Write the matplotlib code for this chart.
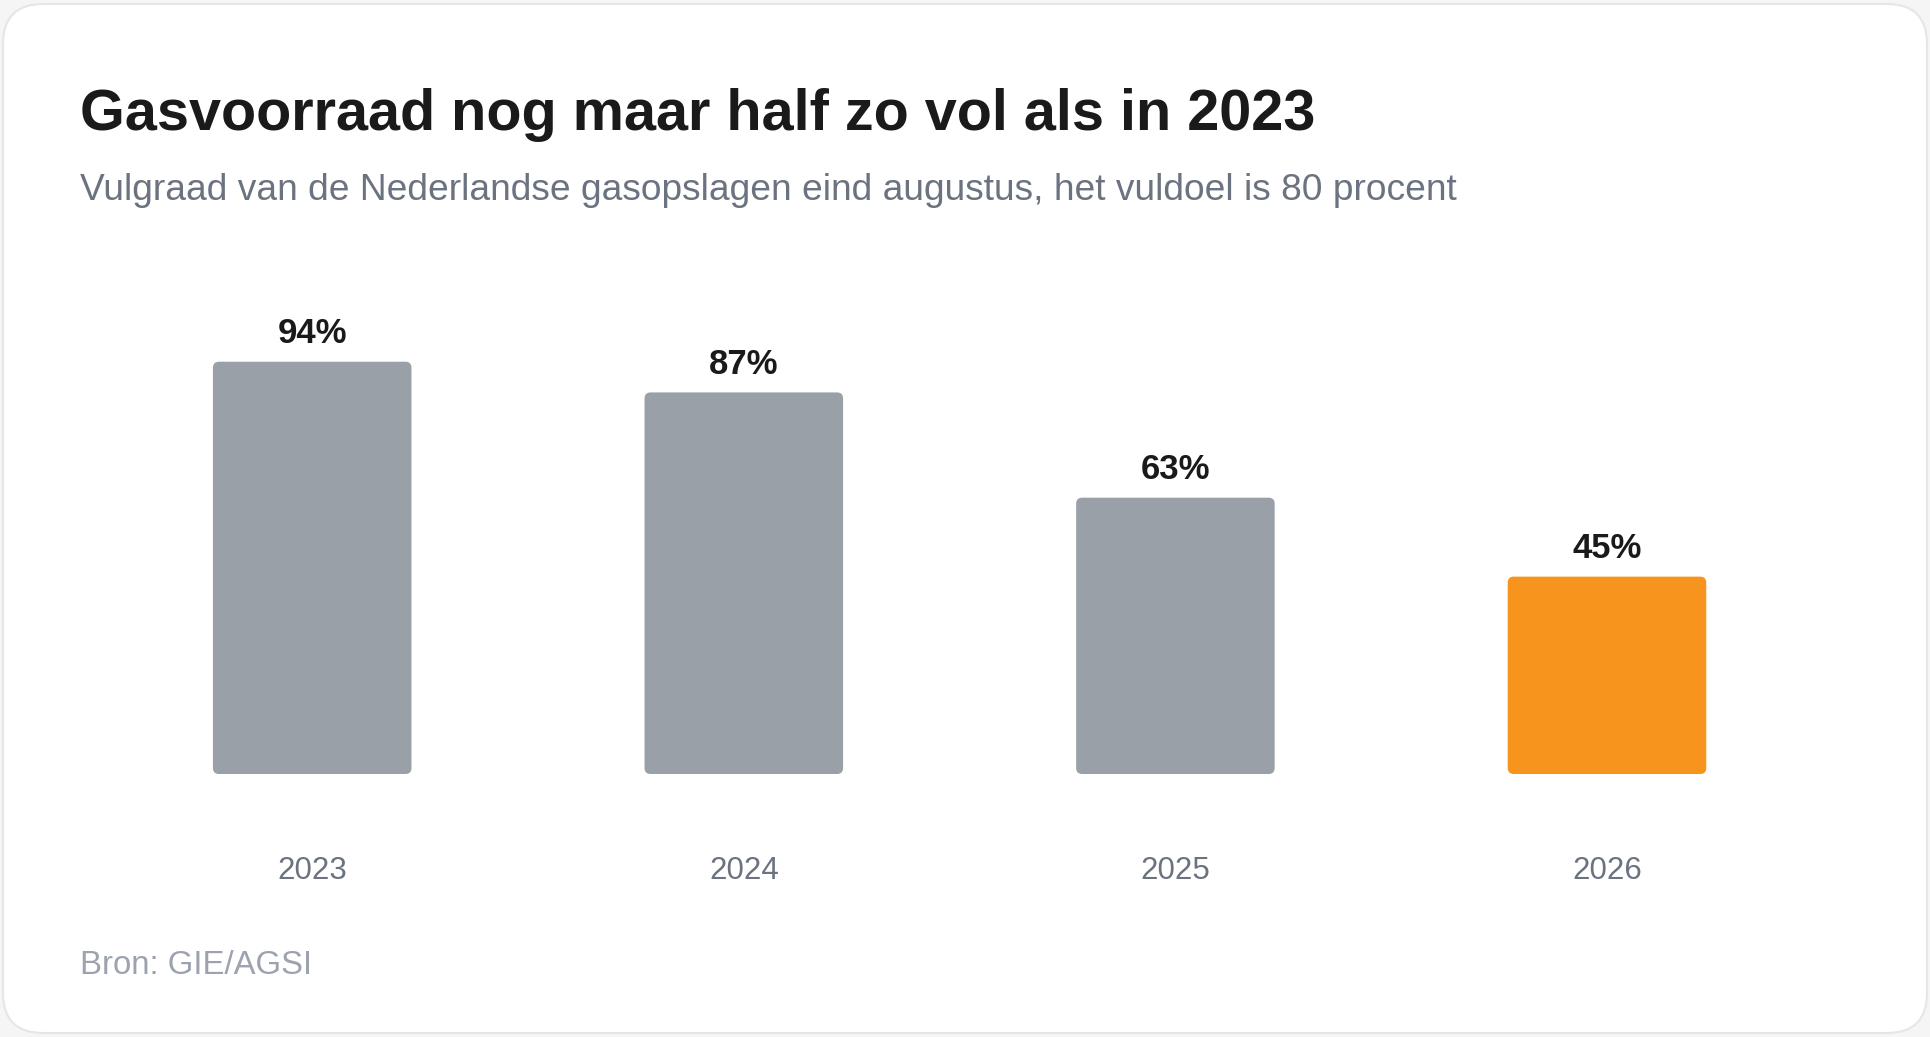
import matplotlib
matplotlib.use("Agg")
from matplotlib import pyplot as plt
from matplotlib.patches import FancyBboxPatch

# Data
years = ['2023', '2024', '2025', '2026']
fill_pct = [94, 87, 63, 45]
bar_colors = ['#9aa0a8', '#9aa0a8', '#9aa0a8', '#f7941d']

title = 'Gasvoorraad nog maar half zo vol als in 2023'
subtitle = 'Vulgraad van de Nederlandse gasopslagen eind augustus, het vuldoel is 80 procent'
source = 'Bron: GIE/AGSI'

plt.rcParams['font.family'] = ['Liberation Sans', 'DejaVu Sans']

W, H, DPI = 1930, 1037, 100
fig = plt.figure(figsize=(W / DPI, H / DPI), dpi=DPI)
fig.patch.set_facecolor('#f5f5f5')

# Card background (pixel coordinates)
bg = fig.add_axes([0, 0, 1, 1])
bg.set_xlim(0, W)
bg.set_ylim(0, H)
bg.axis('off')
card = FancyBboxPatch((3, 4), W - 6, H - 8, boxstyle='round,pad=0,rounding_size=40',
                      facecolor='white', edgecolor='#e6e6e6', linewidth=1.5)
bg.add_patch(card)

# Titles
fig.text(80 / W, 0.8746, title, fontsize=41.5, fontweight='bold', color='#1a1a1a', va='baseline')
fig.text(80 / W, 0.8076, subtitle, fontsize=26.7, color='#6b7280', va='baseline')
fig.text(80 / W, 0.0605, source, fontsize=23.7, color='#9ca3af', va='baseline')

# Chart axes
ax_left, ax_right = 96.4, 1822.8
ax_bottom, ax_h = 263, 438.6
ax = fig.add_axes([ax_left / W, ax_bottom / H, (ax_right - ax_left) / W, ax_h / H])
ax.set_xlim(-0.5, len(years) - 0.5)
ax.set_ylim(0, 100)
ax.axis('off')

x = list(range(len(years)))
bars = ax.bar(x, fill_pct, width=0.46, color=bar_colors)

# Rounded corners: replace rectangles by rounded boxes
px_x = (ax_right - ax_left) / len(years)  # pixels per x unit
px_y = ax_h / 100.0                        # pixels per y unit
radius = 6.0 / px_x
for rect in bars:
    rb = FancyBboxPatch((rect.get_x(), rect.get_y()), rect.get_width(), rect.get_height(),
                        boxstyle=f'round,pad=0,rounding_size={radius}',
                        mutation_aspect=px_x / px_y,
                        facecolor=rect.get_facecolor(), edgecolor='none')
    ax.add_patch(rb)
    rect.set_visible(False)

# Labels
for xi, v, yr in zip(x, fill_pct, years):
    ax.annotate(f'{v}%', (xi, v), xytext=(0, 13.2), textcoords='offset points',
                ha='center', va='baseline', fontsize=25, fontweight='bold', color='#1a1a1a')
    ax.text(xi, -0.240, yr, transform=ax.get_xaxis_transform(), ha='center', va='baseline',
            fontsize=22.5, color='#6b7280')

fig.savefig('out.png', dpi=DPI, facecolor=fig.get_facecolor())
